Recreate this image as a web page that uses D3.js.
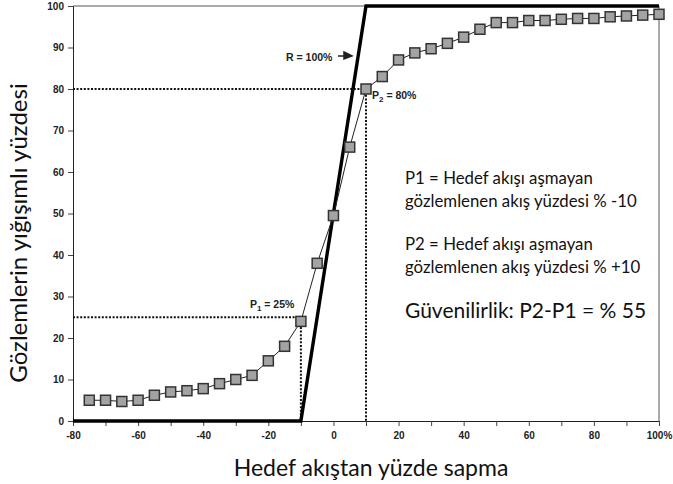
<!DOCTYPE html>
<html>
<head>
<meta charset="utf-8">
<script src="https://cdn.jsdelivr.net/npm/d3@7"></script>
<style>
  body { margin: 0; background: #fff; }
  svg { display: block; }
</style>
</head>
<body>
<svg width="673" height="484"></svg>
<script>
var deviation = [-75, -70, -65, -60, -55, -50, -45, -40, -35, -30, -25, -20, -15, -10, -5, 0,
    5, 10, 15, 20, 25, 30, 35, 40, 45, 50, 55, 60, 65, 70, 75, 80, 85, 90, 95, 100];
var cumulative = [5, 5, 4.7, 5, 6.2, 7, 7.3, 7.8, 9, 10, 11, 14.5, 18, 24, 38, 49.5,
    66, 80, 83, 87, 88.7, 89.7, 91, 92.5, 94.4, 96, 96, 96.5, 96.5, 96.8, 97, 97, 97.4, 97.6, 97.8, 98];

// ideal "R = 100%" line
var idealX = [-80, -10, 10, 100];
var idealY = [0, 0, 100, 100];

// P1 / P2 guide points
var guides = [
    {name: "P1", x: -10, y: 25},
    {name: "P2", x: 10, y: 80}
];

var xTickValues = [-80, -60, -40, -20, 0, 20, 40, 60, 80, 100];
var yTickValues = [0, 10, 20, 30, 40, 50, 60, 70, 80, 90, 100];

var noteLines = [
    "P1 = Hedef akışı aşmayan",
    "gözlemlenen akış yüzdesi % -10",
    "P2 = Hedef akışı aşmayan",
    "gözlemlenen akış yüzdesi % +10"
];

var svg = d3.select("svg");
var width = +svg.attr("width");
var height = +svg.attr("height");
var margin = {top: 6, right: 14, bottom: 63, left: 73};

var x = d3.scaleLinear().domain([-80, 100]).range([margin.left, width - margin.right]);
var y = d3.scaleLinear().domain([0, 100]).range([height - margin.bottom, margin.top]);

var tickFont = "bold 10px 'Liberation Sans', Arial, sans-serif";
var annFont = "bold 10.5px 'Liberation Sans', Arial, sans-serif";
var textFont = "Lato, 'Open Sans', sans-serif";

// frame (top + right)
svg.append("path")
    .attr("d", "M" + x(-80) + "," + y(100) + "H" + x(100) + "V" + y(0))
    .attr("fill", "none")
    .attr("stroke", "#555")
    .attr("stroke-width", 1);

// x axis
var xAxis = svg.append("g")
    .attr("transform", "translate(0," + y(0) + ")")
    .call(d3.axisBottom(x)
        .tickValues(d3.range(-80, 101, 10))
        .tickSize(5)
        .tickFormat(function(d) {
            if (xTickValues.indexOf(d) < 0) return "";
            return d === 100 ? "100%" : d;
        }));
xAxis.select(".domain").attr("stroke", "#222");
xAxis.selectAll("line").attr("stroke", "#444");
xAxis.selectAll("text")
    .style("font", tickFont)
    .attr("fill", "#222")
    .attr("dy", "0.95em");

// y axis
var yAxis = svg.append("g")
    .attr("transform", "translate(" + x(-80) + ",0)")
    .call(d3.axisLeft(y).tickValues(yTickValues).tickSize(5).tickPadding(4));
yAxis.select(".domain").attr("stroke", "#222");
yAxis.selectAll("line").attr("stroke", "#444");
yAxis.selectAll("text")
    .style("font", tickFont)
    .attr("fill", "#222");

// dotted guides
guides.forEach(function(g) {
    svg.append("path")
        .attr("d", "M" + x(-80) + "," + y(g.y) + "H" + x(g.x) + "V" + y(0))
        .attr("fill", "none")
        .attr("stroke", "#111")
        .attr("stroke-width", 2)
        .attr("stroke-dasharray", "2,1.6");
});

// ideal line
var idealLine = d3.line()
    .x(function(d, i) { return x(idealX[i]); })
    .y(function(d, i) { return y(idealY[i]); });
svg.append("path")
    .datum(idealX)
    .attr("d", idealLine)
    .attr("fill", "none")
    .attr("stroke", "#000")
    .attr("stroke-width", 3.4);

// observed series
var obsLine = d3.line()
    .x(function(d, i) { return x(deviation[i]); })
    .y(function(d) { return y(d); });
svg.append("path")
    .datum(cumulative)
    .attr("d", obsLine)
    .attr("fill", "none")
    .attr("stroke", "#222")
    .attr("stroke-width", 1);

svg.append("g")
    .selectAll("rect")
    .data(cumulative)
    .enter()
    .append("rect")
    .attr("x", function(d, i) { return x(deviation[i]) - 5; })
    .attr("y", function(d) { return y(d) - 5; })
    .attr("width", 10)
    .attr("height", 10)
    .attr("fill", "#a3a3a3")
    .attr("stroke", "#333")
    .attr("stroke-width", 1.5);

// annotations
var ann = svg.append("g").style("font", annFont).attr("fill", "#222");
ann.append("text").attr("x", 286).attr("y", 61).text("R = 100%");
svg.append("path")
    .attr("d", "M338,56 H350 M344,52 L352,56 L344,59 Z")
    .attr("stroke", "#222").attr("stroke-width", 1.5).attr("fill", "#222");

var p2 = ann.append("text").attr("x", x(10) + 6).attr("y", y(80) + 10);
p2.append("tspan").text("P");
p2.append("tspan").attr("font-size", "8px").attr("dy", 3).text("2");
p2.append("tspan").attr("dy", -3).text(" = 80%");

var p1 = ann.append("text").attr("x", x(-10) - 51).attr("y", y(25) - 9);
p1.append("tspan").text("P");
p1.append("tspan").attr("font-size", "8px").attr("dy", 3).text("1");
p1.append("tspan").attr("dy", -3).text(" = 25%");

// explanation text
var noteY = [184, 207, 250, 273];
svg.append("g")
    .selectAll("text")
    .data(noteLines)
    .enter()
    .append("text")
    .attr("x", 405)
    .attr("y", function(d, i) { return noteY[i]; })
    .style("font-family", textFont)
    .style("font-size", "16.8px")
    .attr("fill", "#111")
    .text(function(d) { return d; });

svg.append("text")
    .attr("x", 405)
    .attr("y", 318)
    .style("font-family", textFont)
    .style("font-size", "21px")
    .attr("fill", "#111")
    .text("Güvenilirlik: P2-P1 = % 55");

// axis titles
svg.append("text")
    .attr("x", 371)
    .attr("y", 476)
    .attr("text-anchor", "middle")
    .style("font-family", textFont)
    .style("font-size", "23px")
    .attr("fill", "#111")
    .text("Hedef akıştan yüzde sapma");

svg.append("text")
    .attr("transform", "translate(27,233) rotate(-90)")
    .attr("text-anchor", "middle")
    .style("font-family", textFont)
    .style("font-size", "24px")
    .attr("fill", "#111")
    .text("Gözlemlerin yığışımlı yüzdesi");
</script>
</body>
</html>
